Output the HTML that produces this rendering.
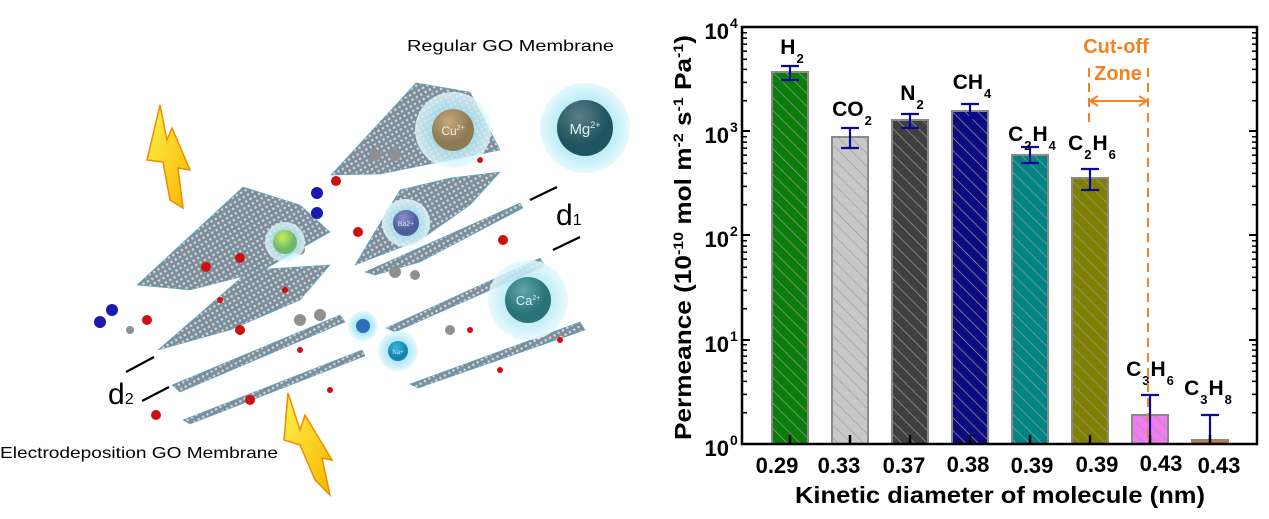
<!DOCTYPE html>
<html><head><meta charset="utf-8"><style>
html,body{margin:0;padding:0;background:#fff;}
svg{display:block;}
.b{font-family:"Liberation Sans",Arial,sans-serif;font-weight:bold;}
.n{font-family:"Liberation Sans",Arial,sans-serif;}
</style></head><body>
<svg width="1269" height="519" viewBox="0 0 1269 519" xmlns="http://www.w3.org/2000/svg">
<defs>
<pattern id="h" width="9" height="9" patternUnits="userSpaceOnUse" patternTransform="rotate(-45)">
<line x1="0" y1="0" x2="0" y2="9" stroke="#9a9a9a" stroke-width="1.4"/></pattern>
<pattern id="go" width="5" height="5" patternUnits="userSpaceOnUse" patternTransform="rotate(-30)">
<rect width="5" height="5" fill="#7d848c"/><circle cx="2.5" cy="2.5" r="1.3" fill="#cfd5db"/><line x1="0" y1="0" x2="5" y2="0" stroke="#3fa7d0" stroke-width="0.9"/></pattern>
<radialGradient id="glow"><stop offset="0.5" stop-color="#aee8f5"/><stop offset="1" stop-color="#e6f9fd"/></radialGradient>
<radialGradient id="mg" cx="0.4" cy="0.3"><stop offset="0" stop-color="#5a7f88"/><stop offset="1" stop-color="#1f5560"/></radialGradient>
<radialGradient id="cu" cx="0.4" cy="0.3"><stop offset="0" stop-color="#c9a77a"/><stop offset="1" stop-color="#8c7a55"/></radialGradient>
<radialGradient id="ca" cx="0.4" cy="0.3"><stop offset="0" stop-color="#5fa7a8"/><stop offset="1" stop-color="#2b7277"/></radialGradient>
<radialGradient id="ba" cx="0.4" cy="0.3"><stop offset="0" stop-color="#8e8fd0"/><stop offset="1" stop-color="#4b5d9b"/></radialGradient>
<radialGradient id="na" cx="0.4" cy="0.3"><stop offset="0" stop-color="#38b8dd"/><stop offset="1" stop-color="#1684b0"/></radialGradient>
<radialGradient id="gr" cx="0.4" cy="0.3"><stop offset="0" stop-color="#c8ef5a"/><stop offset="1" stop-color="#6fb86a"/></radialGradient>
<linearGradient id="bolt" x1="0" y1="0" x2="1" y2="1"><stop offset="0" stop-color="#fff24a"/><stop offset="1" stop-color="#f7b500"/></linearGradient>
</defs>

<!-- LEFT ILLUSTRATION -->
<text class="n" x="407" y="51" font-size="16" textLength="207" lengthAdjust="spacingAndGlyphs">Regular GO Membrane</text>
<text class="n" x="0" y="458" font-size="16" textLength="278" lengthAdjust="spacingAndGlyphs">Electrodeposition GO Membrane</text>

<polygon points="160,105 147,160 163,162 170,200 183,208 178,168 190,170 172,128 167,140" fill="url(#bolt)" stroke="#f08a00" stroke-width="1.5"/>
<polygon points="288,393 284,440 300,445 315,480 330,495 322,458 332,460 305,415 300,430" fill="url(#bolt)" stroke="#f08a00" stroke-width="1.5"/>

<g opacity="0.95" stroke="#3fa7d0" stroke-width="0.6">
<polygon points="331,175 416,83 470,92 500,150 440,162 380,174" fill="url(#go)"/>
<polygon points="355,265 400,190 450,178 500,172 470,205 420,240" fill="url(#go)"/>
<polygon points="365,272 520,203 523,208 420,262 375,275" fill="url(#go)"/>
<polygon points="137,285 243,187 300,205 330,232 260,272 190,290" fill="url(#go)"/>
<polygon points="158,350 250,270 330,265 300,300 230,330" fill="url(#go)"/>
<polygon points="172,385 340,315 345,322 180,392" fill="url(#go)"/>
<polygon points="183,420 362,350 365,356 190,424" fill="url(#go)"/>
<polygon points="386,328 540,258 545,266 395,332" fill="url(#go)"/>
<polygon points="410,384 580,322 585,330 418,388" fill="url(#go)"/>
</g>
<g fill="#d01010">
<circle cx="240" cy="258" r="5"/><circle cx="206" cy="267" r="5"/><circle cx="336" cy="181" r="5"/>
<circle cx="358" cy="232" r="5"/><circle cx="240" cy="330" r="5"/><circle cx="250" cy="400" r="5"/>
<circle cx="147" cy="320" r="5"/><circle cx="156" cy="415" r="5"/><circle cx="503" cy="240" r="5"/>
<circle cx="285" cy="290" r="3"/><circle cx="300" cy="350" r="3"/><circle cx="470" cy="330" r="3"/>
<circle cx="440" cy="120" r="3"/><circle cx="480" cy="160" r="3"/><circle cx="330" cy="390" r="3"/>
<circle cx="500" cy="370" r="3"/><circle cx="560" cy="340" r="3"/><circle cx="220" cy="300" r="3"/>
</g>
<g fill="#909090">
<circle cx="375" cy="155" r="6"/><circle cx="395" cy="155" r="6"/><circle cx="300" cy="250" r="5"/>
<circle cx="300" cy="320" r="6"/><circle cx="320" cy="315" r="6"/><circle cx="450" cy="330" r="5"/>
<circle cx="395" cy="272" r="6"/><circle cx="415" cy="275" r="5"/><circle cx="130" cy="330" r="4"/>
</g>
<g fill="#1a1ab0"><circle cx="317" cy="193" r="6"/><circle cx="317" cy="213" r="6"/><circle cx="112" cy="310" r="6"/><circle cx="100" cy="322" r="6"/></g>

<circle cx="585" cy="128" r="45" fill="url(#glow)"/><circle cx="585" cy="128" r="28" fill="url(#mg)"/>
<text class="n" x="585" y="134" font-size="15" fill="#e0eef0" text-anchor="middle">Mg<tspan dy="-6" font-size="9">2+</tspan></text>
<circle cx="453" cy="130" r="38" fill="url(#glow)" opacity="0.8"/><circle cx="453" cy="130" r="21" fill="url(#cu)"/>
<text class="n" x="453" y="135" font-size="12" fill="#f0ebe0" text-anchor="middle">Cu<tspan dy="-5" font-size="7">2+</tspan></text>
<circle cx="528" cy="300" r="40" fill="url(#glow)" opacity="0.85"/><circle cx="528" cy="300" r="23" fill="url(#ca)"/>
<text class="n" x="528" y="305" font-size="13" fill="#e0eef0" text-anchor="middle">Ca<tspan dy="-5" font-size="7">2+</tspan></text>
<circle cx="406" cy="223" r="24" fill="url(#glow)" opacity="0.85"/><circle cx="406" cy="223" r="13" fill="url(#ba)"/>
<text class="n" x="406" y="226" font-size="7" fill="#dde" text-anchor="middle">Ba2+</text>
<circle cx="398" cy="351" r="20" fill="url(#glow)"/><circle cx="398" cy="351" r="10" fill="url(#na)"/>
<text class="n" x="398" y="354" font-size="6" fill="#dde" text-anchor="middle">Na+</text>
<circle cx="363" cy="326" r="15" fill="url(#glow)"/><circle cx="363" cy="326" r="7" fill="#2f6fb8"/>
<circle cx="285" cy="242" r="20" fill="url(#glow)" opacity="0.8"/><circle cx="285" cy="242" r="12" fill="url(#gr)"/>

<g stroke="#000" stroke-width="2.2">
<line x1="530" y1="200" x2="557" y2="187"/><line x1="553" y1="250" x2="580" y2="237"/>
<line x1="126" y1="372" x2="154" y2="357"/><line x1="142" y1="401" x2="169" y2="387"/>
</g>
<text class="n" x="556" y="225" font-size="30">d<tspan font-size="16">1</tspan></text>
<text class="n" x="108" y="404" font-size="30">d<tspan font-size="16">2</tspan></text>

<!-- RIGHT CHART -->
<g stroke="#8a8a8a" stroke-width="2">
<rect x="772" y="72" width="36" height="372" fill="#0a7d0a"/><rect x="772" y="72" width="36" height="372" fill="url(#h)"/>
<rect x="832" y="137" width="36" height="307" fill="#c8c8c8"/><rect x="832" y="137" width="36" height="307" fill="url(#h)"/>
<rect x="892" y="120" width="36" height="324" fill="#404040"/><rect x="892" y="120" width="36" height="324" fill="url(#h)"/>
<rect x="952" y="111" width="36" height="333" fill="#0c0c80"/><rect x="952" y="111" width="36" height="333" fill="url(#h)"/>
<rect x="1012" y="155" width="36" height="289" fill="#008484"/><rect x="1012" y="155" width="36" height="289" fill="url(#h)"/>
<rect x="1072" y="178" width="36" height="266" fill="#808000"/><rect x="1072" y="178" width="36" height="266" fill="url(#h)"/>
<rect x="1132" y="415" width="36" height="29" fill="#f07df0"/><rect x="1132" y="415" width="36" height="29" fill="url(#h)"/>
<rect x="1192" y="440" width="36" height="4" fill="#d07a20"/>
</g>
<g stroke="#0a0a9a" stroke-width="2.2" fill="none">
<path d="M790 66V80M781 66H799M781 80H799"/>
<path d="M850 128V148M841 128H859M841 148H859"/>
<path d="M910 114V128M901 114H919M901 128H919"/>
<path d="M970 104V118M961 104H979M961 118H979"/>
<path d="M1030 147V163M1021 147H1039M1021 163H1039"/>
<path d="M1090 169V190M1081 169H1099M1081 190H1099"/>
<path d="M1150 395V444M1141 395H1159"/>
<path d="M1210 415V444M1201 415H1219"/>
</g>
<g class="b" font-size="21" fill="#000" text-anchor="middle">
<text x="792" y="54">H<tspan dx="1" dy="9" font-size="13">2</tspan></text>
<text x="852" y="116">CO<tspan dx="1" dy="9" font-size="13">2</tspan></text>
<text x="912" y="100">N<tspan dx="1" dy="9" font-size="13">2</tspan></text>
<text x="972" y="89">CH<tspan dx="1" dy="9" font-size="13">4</tspan></text>
<text x="1032" y="141">C<tspan dx="1" dy="9" font-size="13">2</tspan><tspan dx="1" dy="-9">H</tspan><tspan dx="1" dy="9" font-size="13">4</tspan></text>
<text x="1092" y="150">C<tspan dx="1" dy="9" font-size="13">2</tspan><tspan dx="1" dy="-9">H</tspan><tspan dx="1" dy="9" font-size="13">6</tspan></text>
<text x="1150" y="376">C<tspan dx="1" dy="9" font-size="13">3</tspan><tspan dx="1" dy="-9">H</tspan><tspan dx="1" dy="9" font-size="13">6</tspan></text>
<text x="1208" y="395">C<tspan dx="1" dy="9" font-size="13">3</tspan><tspan dx="1" dy="-9">H</tspan><tspan dx="1" dy="9" font-size="13">8</tspan></text>
</g>
<g stroke="#f58220" stroke-width="2" fill="none">
<line x1="1089" y1="68" x2="1089" y2="124" stroke-dasharray="9,6"/>
<line x1="1148" y1="68" x2="1148" y2="440" stroke-dasharray="9,6"/>
<line x1="1091" y1="101" x2="1146" y2="101"/>
<path d="M1098 96L1090 101L1098 106M1139 96L1147 101L1139 106"/>
</g>
<text class="b" x="1116" y="53" font-size="20" fill="#f58220" text-anchor="middle">Cut-off</text>
<text class="b" x="1118" y="80" font-size="20" fill="#f58220" text-anchor="middle">Zone</text>

<rect x="742" y="27" width="515" height="417" fill="none" stroke="#000" stroke-width="2.5"/>
<g stroke="#000" stroke-width="2">
<path d="M742 27h8M742 131h8M742 235h8M742 340h8M742 444h8M1257 27h-8M1257 131h-8M1257 235h-8M1257 340h-8"/>
</g>
<g stroke="#000" stroke-width="1.5">
<path d="M742 100.7h5M742 82.4h5M742 69.4h5M742 59.3h5M742 51.1h5M742 44.1h5M742 38.1h5M742 32.8h5
M742 204.7h5M742 186.4h5M742 173.4h5M742 163.3h5M742 155.1h5M742 148.1h5M742 142.1h5M742 136.8h5
M742 308.7h5M742 290.4h5M742 277.4h5M742 267.3h5M742 259.1h5M742 252.1h5M742 246.1h5M742 240.8h5
M742 412.7h5M742 394.4h5M742 381.4h5M742 371.3h5M742 363.1h5M742 356.1h5M742 350.1h5M742 344.8h5
M1257 100.7h-5M1257 82.4h-5M1257 69.4h-5M1257 59.3h-5M1257 51.1h-5M1257 44.1h-5M1257 38.1h-5M1257 32.8h-5
M1257 204.7h-5M1257 186.4h-5M1257 173.4h-5M1257 163.3h-5M1257 155.1h-5M1257 148.1h-5M1257 142.1h-5M1257 136.8h-5
M1257 308.7h-5M1257 290.4h-5M1257 277.4h-5M1257 267.3h-5M1257 259.1h-5M1257 252.1h-5M1257 246.1h-5M1257 240.8h-5
M1257 412.7h-5M1257 394.4h-5M1257 381.4h-5M1257 371.3h-5M1257 363.1h-5M1257 356.1h-5M1257 350.1h-5M1257 344.8h-5"/>
</g>
<g stroke="#000" stroke-width="2.5">
<path d="M790 444v-9M850 444v-9M910 444v-9M970 444v-9M1030 444v-9M1090 444v-9M1150 444v-9M1210 444v-9"/>
</g>
<g class="b" font-size="22" fill="#000" text-anchor="end">
<text x="729" y="39">10</text><text x="730" y="28" font-size="14" text-anchor="start">4</text>
<text x="729" y="143">10</text><text x="730" y="132" font-size="14" text-anchor="start">3</text>
<text x="729" y="247">10</text><text x="730" y="236" font-size="14" text-anchor="start">2</text>
<text x="729" y="352">10</text><text x="730" y="341" font-size="14" text-anchor="start">1</text>
<text x="729" y="456">10</text><text x="730" y="445" font-size="14" text-anchor="start">0</text>
</g>
<g class="b" font-size="22" fill="#000" text-anchor="middle">
<text x="777" y="473">0.29</text><text x="839" y="473">0.33</text><text x="904" y="473">0.37</text>
<text x="968" y="472">0.38</text><text x="1032" y="473">0.39</text><text x="1097" y="472">0.39</text>
<text x="1161" y="471">0.43</text><text x="1219" y="473">0.43</text>
</g>
<text class="b" x="1000" y="503" font-size="23" text-anchor="middle" textLength="410" lengthAdjust="spacingAndGlyphs">Kinetic diameter of molecule (nm)</text>
<text class="b" transform="translate(691,440) rotate(-90)" font-size="23" textLength="405" lengthAdjust="spacingAndGlyphs">Permeance (10<tspan dy="-8" font-size="14">-10</tspan><tspan dy="8"> mol m</tspan><tspan dy="-8" font-size="14">-2</tspan><tspan dy="8"> s</tspan><tspan dy="-8" font-size="14">-1</tspan><tspan dy="8"> Pa</tspan><tspan dy="-8" font-size="14">-1</tspan><tspan dy="8">)</tspan></text>
</svg>
</body></html>
